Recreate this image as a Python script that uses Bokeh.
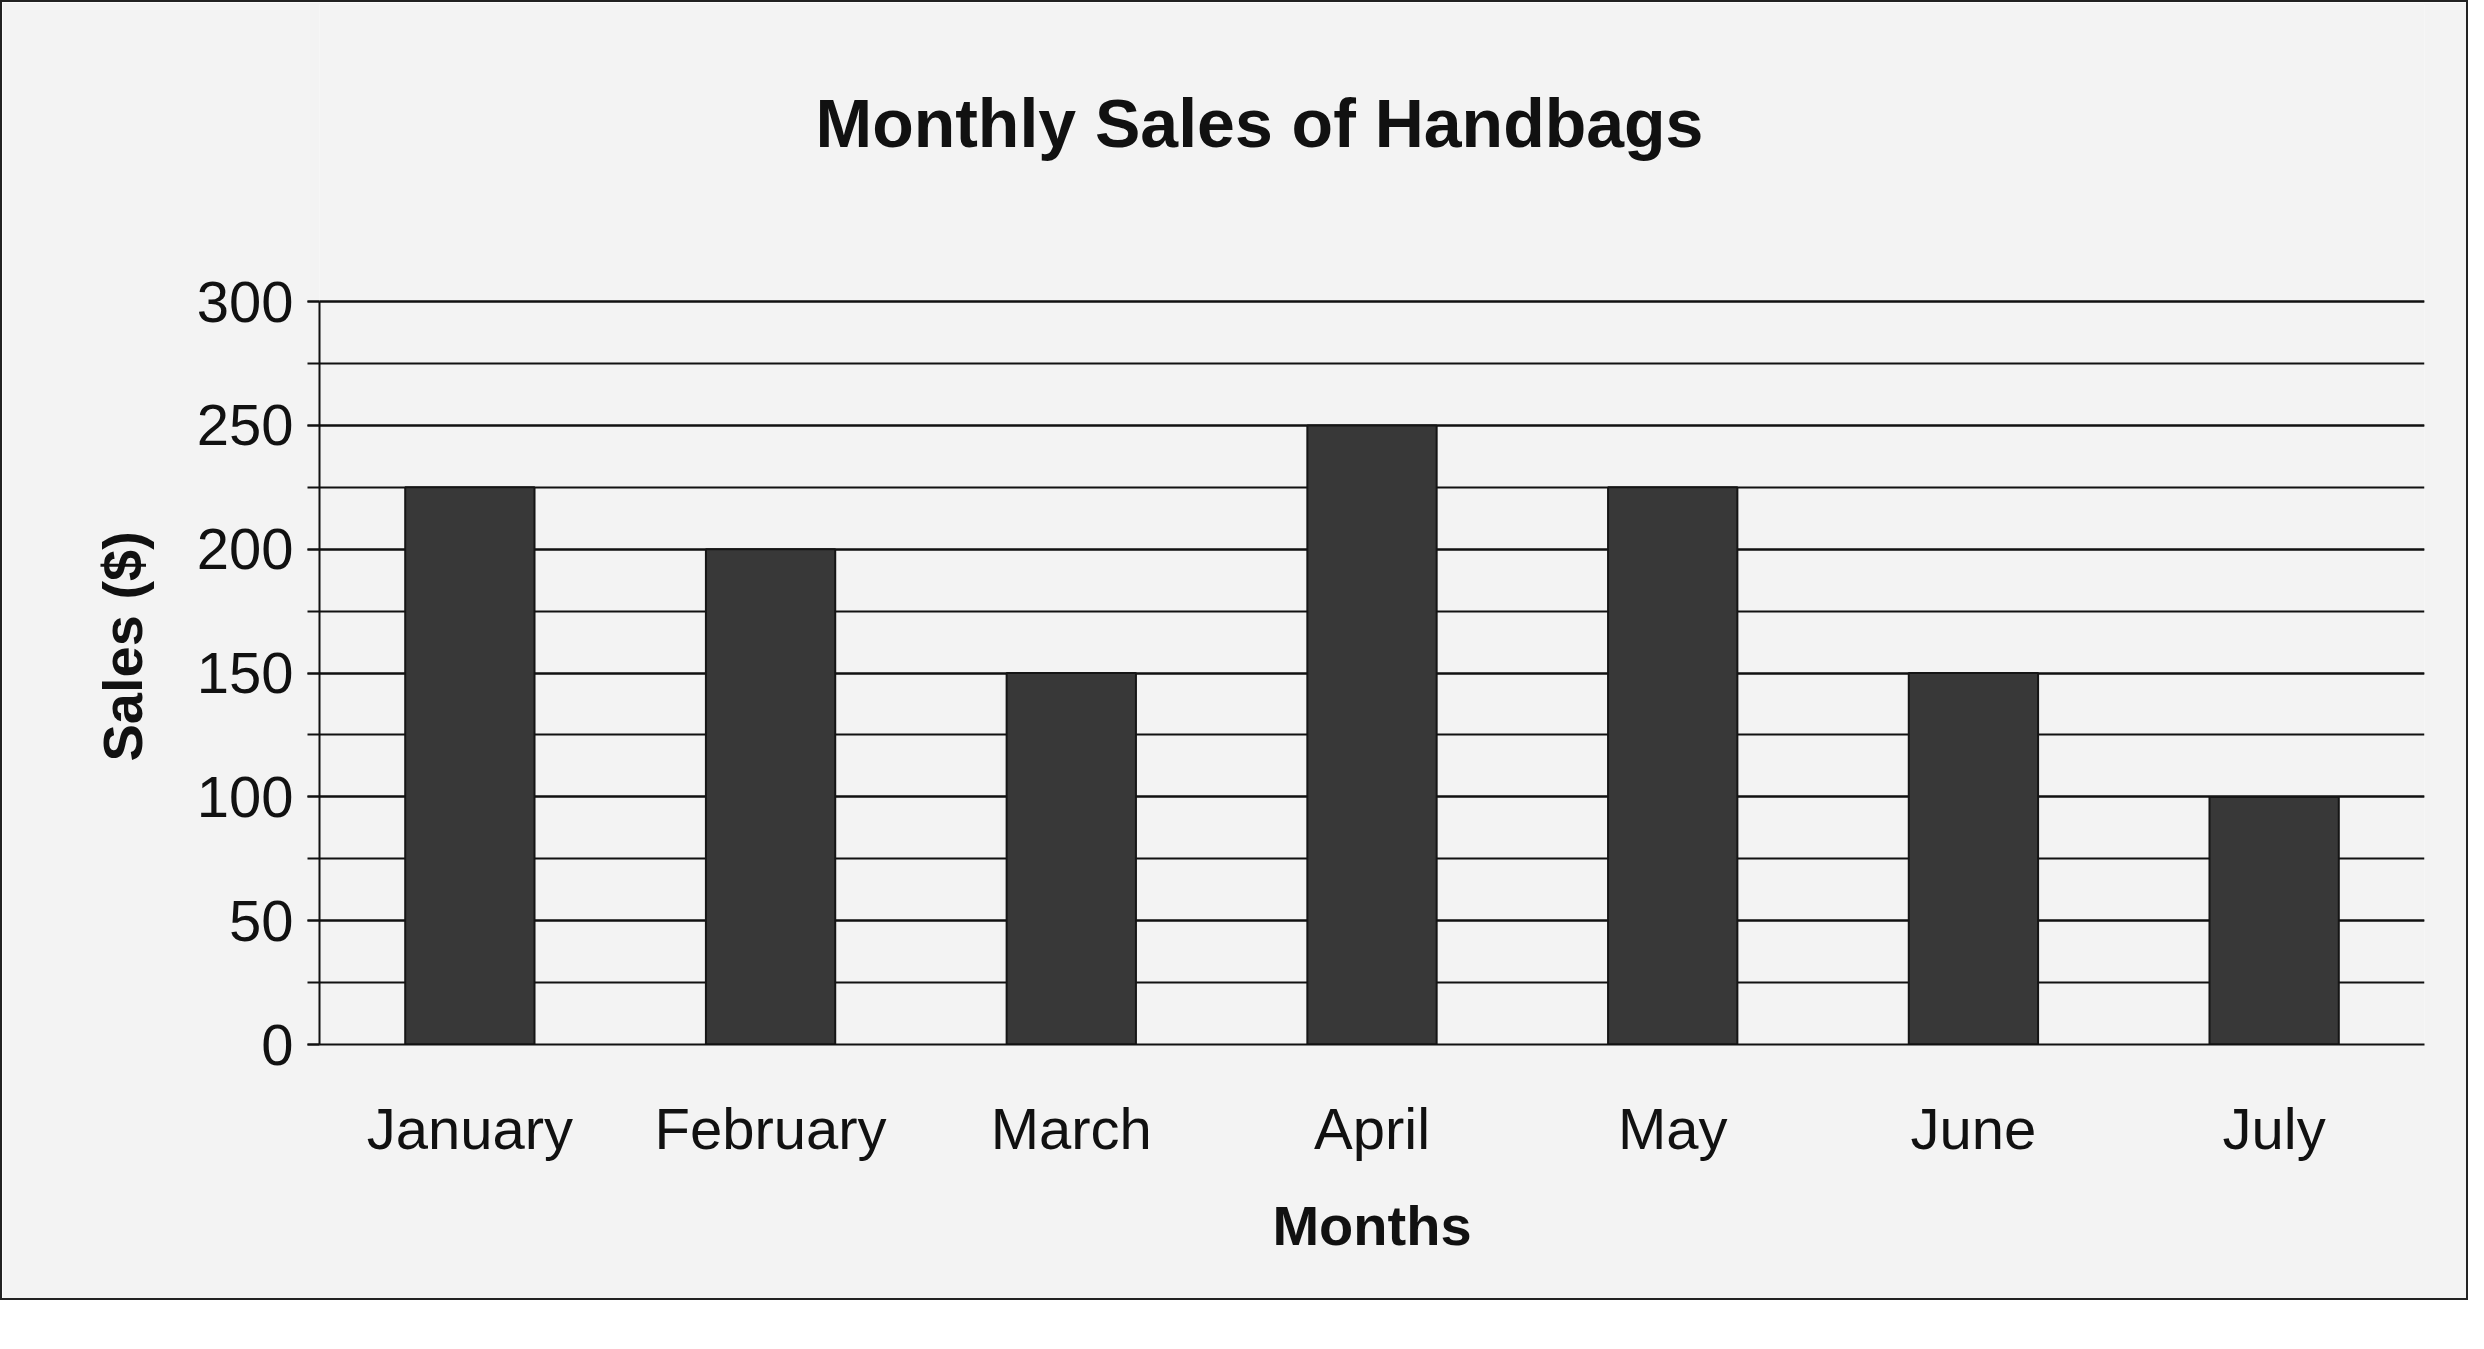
from bokeh.plotting import figure
from bokeh.models import SingleIntervalTicker, Range1d, Label, Title
from bokeh.embed import file_html
from bokeh.resources import INLINE

months = ["January", "February", "March", "April", "May", "June", "July"]
sales = [225, 200, 150, 250, 225, 150, 100]
title_text = "Monthly Sales of Handbags"
y_label = "Sales ($)"
x_label = "Months"

FONT = "Liberation Sans"

# y range extends above the axis so the title can sit inside the frame
p = figure(x_range=months, y_range=Range1d(0, 420), width=2468, height=1300,
           output_backend="svg", toolbar_location=None,
           min_border_left=317, min_border_right=46, min_border_top=2, min_border_bottom=258)

p.background_fill_color = "#f3f3f3"
p.border_fill_color = "#f3f3f3"
p.outline_line_color = None
p.styles = {"border": "2px solid #222222"}

p.vbar(x=months, top=sales, width=0.43, fill_color="#383838", line_color="#151515", line_width=2)

title = Label(x=496, y=922, x_units="screen", y_units="screen", text=title_text,
              text_align="left", text_baseline="middle",
              text_font=FONT, text_font_size="68px", text_font_style="bold",
              text_color="#111111")
p.add_layout(title)

ylab = Title(text=y_label, align="left", offset=283, standoff=80,
             text_font=FONT, text_font_size="56px", text_font_style="bold",
             text_color="#111111")
p.add_layout(ylab, "left")

ticker = SingleIntervalTicker(interval=50, num_minor_ticks=2)
p.yaxis.ticker = ticker
p.yaxis.bounds = (0, 300)
p.ygrid.ticker = ticker
p.ygrid.bounds = (0, 300)
p.ygrid.grid_line_color = "#111111"
p.ygrid.grid_line_width = 2
p.ygrid.minor_grid_line_color = "#111111"
p.ygrid.minor_grid_line_width = 2
p.xgrid.grid_line_color = None

for ax in (p.xaxis, p.yaxis):
    ax.axis_line_color = "#111111"
    ax.axis_line_width = 2
    ax.major_label_text_font = FONT
    ax.major_label_text_font_size = "58px"
    ax.major_label_text_color = "#111111"
    ax.axis_label_text_font = FONT
    ax.axis_label_text_font_size = "56px"
    ax.axis_label_text_font_style = "bold"
    ax.axis_label_text_color = "#111111"

p.yaxis.major_tick_line_color = "#111111"
p.yaxis.major_tick_line_width = 2
p.yaxis.major_tick_out = 12
p.yaxis.major_tick_in = 0
p.yaxis.minor_tick_line_color = "#111111"
p.yaxis.minor_tick_line_width = 2
p.yaxis.minor_tick_out = 12
p.yaxis.minor_tick_in = 0
p.yaxis.major_label_standoff = 14

p.xaxis.axis_label = x_label
p.xaxis.major_tick_line_color = None
p.xaxis.minor_tick_line_color = None
p.xaxis.major_label_standoff = 45
p.xaxis.axis_label_standoff = 30

open("out.html", "w").write(file_html(p, INLINE))
